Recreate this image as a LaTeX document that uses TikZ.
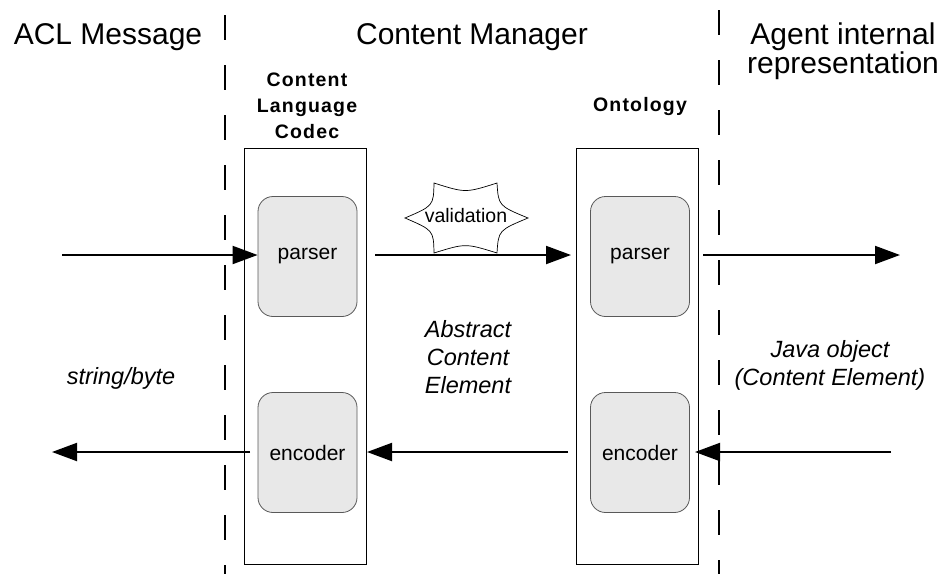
\documentclass[tikz,border=0pt]{standalone}
\usepackage{fontspec}
\setmainfont{Liberation Sans}
\usetikzlibrary{arrows.meta}
\begin{document}
\begin{tikzpicture}[x=1pt,y=-1pt,
  title/.style={font=\fontsize{30}{29}\selectfont, inner sep=0pt, align=center},
  complabel/.style={font=\fontsize{19.5}{26}\selectfont\bfseries\addfontfeature{LetterSpace=6}, inner sep=0pt, align=center},
  note/.style={font=\fontsize{23.5}{28}\selectfont\itshape, inner sep=0pt, align=center},
  component/.style={draw, line width=1.8pt, minimum width=122pt, minimum height=416pt, inner sep=0pt},
  part/.style={draw=black!65, fill=black!9, line width=0.8pt, rounded corners=15pt,
    minimum width=99pt, minimum height=120pt, inner sep=0pt, font=\fontsize{21}{25}\selectfont},
  divider/.style={line width=1.8pt, dash pattern=on 25pt off 25pt},
  flow/.style={line width=2pt, -{Triangle[length=25pt,width=18pt]}},
  burst/.style={draw, fill=white, line width=0.7pt}]

\useasboundingbox (0,0) rectangle (948,574);

% column dividers
\coordinate (dl1) at (225,15);
\coordinate (dl2) at (225,574);
\coordinate (dr1) at (719,10);
\coordinate (dr2) at (719,574);
\draw[divider] (dl1) -- (dl2);
\draw[divider] (dr1) -- (dr2);

% column headings
\node[title] (acl) at (108,37) {ACL Message};
\node[title] (cm) at (472,37) {Content Manager};
\node[title] (agent) at (843,51) {Agent internal\\representation};

% codec and ontology blocks
\node[component] (codec) at (305.5,356.5) {};
\node[component] (onto) at (637.5,356.5) {};
\node[complabel] (codecl) at (307,106) {Content\\Language\\Codec};
\node[complabel] (ontol) at (640,106) {Ontology};

\node[part] (cpar) at (307.5,256.5) {parser};
\node[part] (cenc) at (307.5,452.5) {encoder};
\node[part] (opar) at (640,256.5) {parser};
\node[part] (oenc) at (640,452.5) {encoder};

% free ends of the message flows
\coordinate (inL) at (62,255);
\coordinate (outL) at (52,452);
\coordinate (cpOut) at (375,255);
\coordinate (opIn) at (571,255);
\coordinate (opOut) at (703,255);
\coordinate (outR) at (900,255);
\coordinate (ceStart) at (250,452);
\coordinate (oeStart) at (568,452);
\coordinate (ceIn) at (367,452);
\coordinate (inR) at (891,452);
\coordinate (oeIn) at (695,452);

% decoding path (top)
\draw[flow] (inL) -- (inL -| cpar.west);
\draw[flow] (cpOut) -- (opIn);
\draw[flow] (opOut) -- (outR);

% encoding path (bottom)
\draw[flow] (ceStart) -- (outL);
\draw[flow] (oeStart) -- (ceIn);
\draw[flow] (inR) -- (oeIn);

% validation starburst on the parser link
\draw[burst] (434,183) .. controls (465.5,193) .. (497,183)
  .. controls (498.5,205.8) .. (528,218)
  .. controls (498.5,230.3) .. (497,253)
  .. controls (465.5,243.2) .. (434,253)
  .. controls (433.5,230.3) .. (405,218)
  .. controls (433.5,205.8) .. (434,183) -- cycle;
\node[font=\fontsize{19.5}{22}\selectfont, inner sep=0pt] (valid) at (466,216) {validation};

% data representations
\node[note] (strb) at (121,378) {string/byte};
\node[note] (ace) at (468,357) {Abstract\\Content\\Element};
\node[note] (jobj) at (830,365) {Java object\\(Content Element)};

\end{tikzpicture}
\end{document}
